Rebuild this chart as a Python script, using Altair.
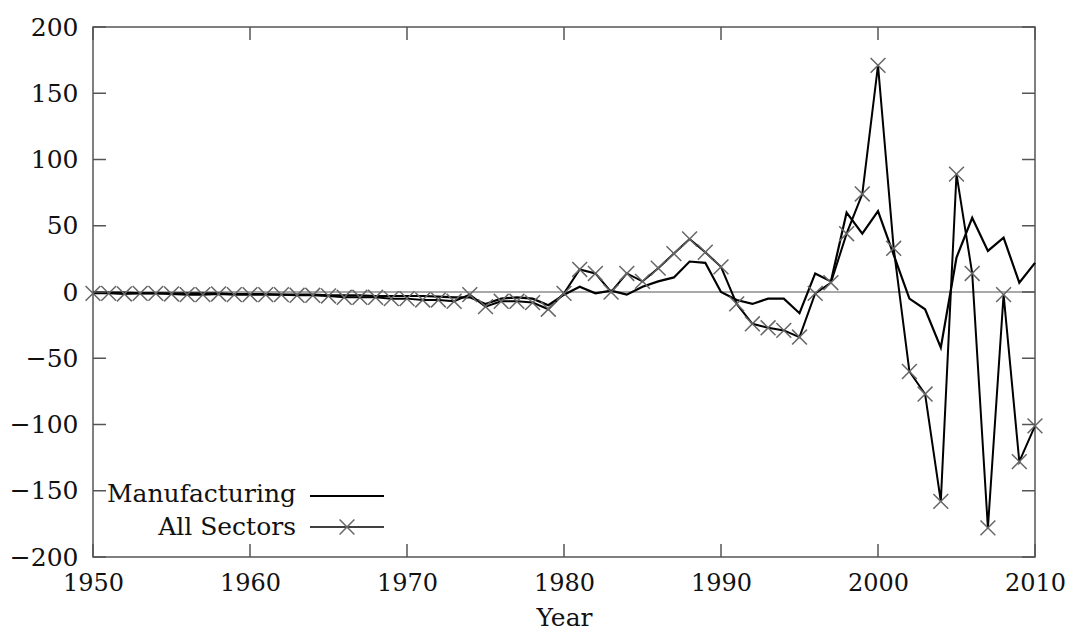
import altair as alt
import pandas as pd

years = list(range(1950, 2011))

manufacturing = [
    0, -0.5, -0.5, -1, -1, -1, -1, -1, -1, -1.5,   # 1950-1959
    -1.5, -1.5, -2, -2, -2, -2.5, -2.5, -2.5, -3, -3,  # 1960-1969
    -3, -3, -3.5, -4, -4, -9, -5, -4, -5, -10,     # 1970-1979
    -2, 4, -1, 1, -2, 4, 8, 11, 23, 22,            # 1980-1989
    0, -6, -9, -5, -5, -16, 14, 8, 60, 44,         # 1990-1999
    61, 28, -5, -13, -42, 26, 56, 31, 41, 7,       # 2000-2009
    22,                                            # 2010
]

all_sectors = [
    -1, -1, -1.5, -1, -1, -1.5, -2, -2, -1.5, -2,  # 1950-1959
    -2, -2, -2, -2.5, -2.5, -3, -4, -4, -4, -5,    # 1960-1969
    -5, -6, -6, -7, -2, -11, -7, -7, -8, -13,      # 1970-1979
    -1, 17, 14, 0, 14, 8, 18, 29, 40, 30,          # 1980-1989
    19, -9, -24, -27, -29, -34, -1, 7, 44, 74,     # 1990-1999
    171, 33, -60, -77, -158, 89, 14, -178, -2, -128,  # 2000-2009
    -101,                                          # 2010
]

series_names = ["Manufacturing", "All Sectors"]
x_ticks = [1950, 1960, 1970, 1980, 1990, 2000, 2010]
y_ticks = [-200, -150, -100, -50, 0, 50, 100, 150, 200]

W, H = 942, 530
FONT = "DejaVu Serif"
FS = 25
XFS = 24
TICK = 13
FRAME = "#555555"
CROSS = "M-1,-1L1,1M-1,1L1,-1"

df = pd.DataFrame({
    "year": years * 2,
    "value": manufacturing + all_sectors,
    "series": [series_names[0]] * len(years) + [series_names[1]] * len(years),
})

x_scale = alt.Scale(domain=[1950, 2010], nice=False, zero=False)
y_scale = alt.Scale(domain=[-200, 200], nice=False, zero=False)

x_axis = alt.Axis(values=x_ticks, format="d", grid=False, ticks=False, domain=False,
                  labelFont=FONT, labelFontSize=XFS, labelColor="#111", labelFlush=False,
                  labelPadding=14, title="Year", titleFont=FONT, titleFontSize=FS,
                  titleFontWeight="normal", titleColor="#111", titlePadding=10)
y_axis = alt.Axis(values=y_ticks, format="d", grid=False, ticks=False, domain=False,
                  labelFont=FONT, labelFontSize=FS, labelColor="#111",
                  labelPadding=15, title=None)

base = alt.Chart(df)

manu = base.transform_filter(alt.datum.series == series_names[0]).mark_line(
    color="black", strokeWidth=2.2
).encode(
    x=alt.X("year:Q", scale=x_scale, axis=x_axis),
    y=alt.Y("value:Q", scale=y_scale, axis=y_axis),
)

alls_line = base.transform_filter(alt.datum.series == series_names[1]).mark_line(
    color="black", strokeWidth=2
).encode(
    x=alt.X("year:Q", scale=x_scale),
    y=alt.Y("value:Q", scale=y_scale),
)

alls_pts = base.transform_filter(alt.datum.series == series_names[1]).mark_point(
    shape=CROSS, size=220, filled=False, stroke="#666666", strokeWidth=1.5, opacity=1
).encode(
    x=alt.X("year:Q", scale=x_scale),
    y=alt.Y("value:Q", scale=y_scale),
)

zero = alt.Chart(pd.DataFrame({"value": [0]})).mark_rule(color=FRAME, strokeWidth=1.2).encode(
    y=alt.Y("value:Q", scale=y_scale)
)

xt = pd.DataFrame({"year": x_ticks})
yt = pd.DataFrame({"value": y_ticks})

xt_bottom = alt.Chart(xt).mark_rule(color=FRAME, strokeWidth=1.5).encode(
    x=alt.X("year:Q", scale=x_scale), y=alt.value(H), y2=alt.value(H - TICK))
xt_top = alt.Chart(xt).mark_rule(color=FRAME, strokeWidth=1.5).encode(
    x=alt.X("year:Q", scale=x_scale), y=alt.value(0), y2=alt.value(TICK))
yt_left = alt.Chart(yt).mark_rule(color=FRAME, strokeWidth=1.5).encode(
    y=alt.Y("value:Q", scale=y_scale), x=alt.value(0), x2=alt.value(TICK))
yt_right = alt.Chart(yt).mark_rule(color=FRAME, strokeWidth=1.5).encode(
    y=alt.Y("value:Q", scale=y_scale), x=alt.value(W - TICK), x2=alt.value(W))

# legend (inside, bottom-left, gnuplot style)
leg1_text = alt.Chart(pd.DataFrame({"label": [series_names[0]]})).mark_text(
    align="right", baseline="middle", font=FONT, fontSize=FS, color="#111"
).encode(x=alt.value(203), y=alt.value(467), text="label:N")
leg2_text = alt.Chart(pd.DataFrame({"label": [series_names[1]]})).mark_text(
    align="right", baseline="middle", font=FONT, fontSize=FS, color="#111"
).encode(x=alt.value(203), y=alt.value(500), text="label:N")
leg1_line = alt.Chart(pd.DataFrame({"label": [series_names[0]]})).mark_rule(
    color="black", strokeWidth=2
).encode(x=alt.value(217), x2=alt.value(291), y=alt.value(469))
leg2_line = alt.Chart(pd.DataFrame({"label": [series_names[1]]})).mark_rule(
    color="black", strokeWidth=1.5
).encode(x=alt.value(217), x2=alt.value(291), y=alt.value(500))
leg2_pt = alt.Chart(pd.DataFrame({"label": [series_names[1]]})).mark_point(
    shape=CROSS, size=220, filled=False, stroke="#666666", strokeWidth=1.5, opacity=1
).encode(x=alt.value(254), y=alt.value(500))

chart = alt.layer(
    zero, manu, alls_line, alls_pts,
    xt_bottom, xt_top, yt_left, yt_right,
    leg1_text, leg2_text, leg1_line, leg2_line, leg2_pt,
).properties(
    width=W, height=H,
    autosize=alt.AutoSizeParams(type="none"),
    padding={"left": 85, "top": 19, "right": 32, "bottom": 77},
    background="white",
).configure_view(stroke=FRAME, strokeWidth=1.5)

chart.save("out.html", embed_options={"renderer": "svg", "actions": False})
